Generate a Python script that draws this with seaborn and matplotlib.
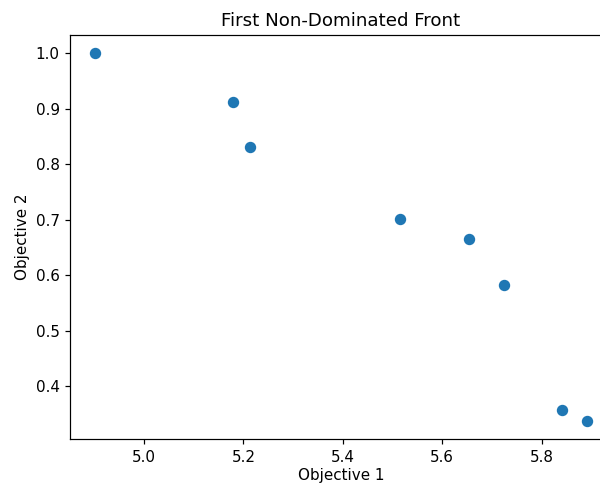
import matplotlib
matplotlib.use("Agg")
import matplotlib.pyplot as plt
import seaborn as sns
import pandas as pd

# Points of the first non-dominated front
objective1 = [4.901, 5.179, 5.214, 5.515, 5.654, 5.724, 5.841, 5.892]
objective2 = [1.000, 0.912, 0.831, 0.701, 0.665, 0.582, 0.358, 0.338]

df = pd.DataFrame({"Objective 1": objective1, "Objective 2": objective2})

# original looks like a default mpl figure shown at ~109 dpi, then cropped
dpi = 109.2
fig = plt.figure(figsize=(600 / dpi, 483 / dpi), dpi=dpi)
# axes run past the right edge, like the cropped original
ax = fig.add_axes([0.1172, 0.0911, 0.9025, 0.8364])
sns.scatterplot(data=df, x="Objective 1", y="Objective 2", ax=ax,
                color="#1f77b4", s=36, edgecolor="#1f77b4", linewidth=1.5)
ax.set_xticks([5.0, 5.2, 5.4, 5.6, 5.8])
ax.set_yticks([0.4, 0.5, 0.6, 0.7, 0.8, 0.9, 1.0])
ax.set_xlabel("Objective 1", labelpad=2)
ax.set_title("First Non-Dominated Front")
fig.savefig("out.png", dpi=dpi)
